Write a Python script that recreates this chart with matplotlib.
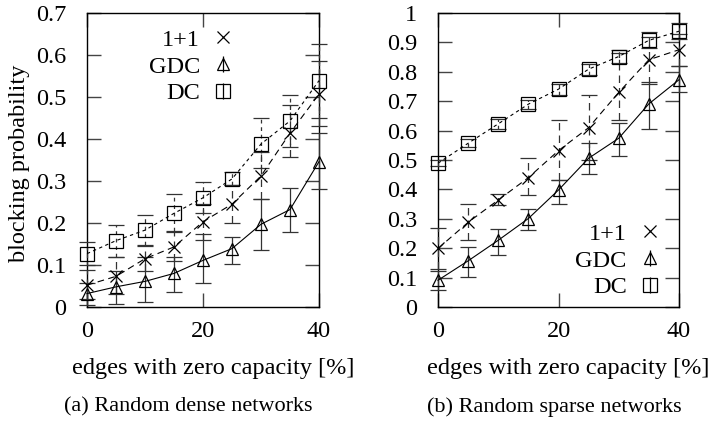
import matplotlib
matplotlib.use("Agg")
import matplotlib.pyplot as plt
from matplotlib.lines import Line2D
from matplotlib.legend_handler import HandlerTuple
from matplotlib.ticker import FormatStrFormatter

plt.rcParams["font.family"] = "serif"
plt.rcParams["font.serif"] = ["Liberation Serif", "DejaVu Serif"]
plt.rcParams["font.size"] = 17.5

# x positions (edges with zero capacity, %)
x = [0, 5, 10, 15, 20, 25, 30, 35, 40]

# (a) Random dense networks
dense_11 = [0.052, 0.073, 0.115, 0.143, 0.203, 0.245, 0.312, 0.414, 0.507]
dense_11_lo = [0.020, 0.030, 0.085, 0.110, 0.160, 0.200, 0.256, 0.358, 0.430]
dense_11_hi = [0.089, 0.120, 0.145, 0.178, 0.245, 0.290, 0.370, 0.480, 0.585]
dense_gdc = [0.032, 0.048, 0.061, 0.080, 0.111, 0.139, 0.197, 0.232, 0.346]
dense_gdc_lo = [0.005, 0.008, 0.012, 0.036, 0.057, 0.103, 0.135, 0.179, 0.280]
dense_gdc_hi = [0.058, 0.086, 0.119, 0.119, 0.175, 0.167, 0.256, 0.284, 0.415]
dense_dc = [0.127, 0.158, 0.183, 0.223, 0.260, 0.305, 0.388, 0.443, 0.539]
dense_dc_lo = [0.100, 0.120, 0.147, 0.180, 0.225, 0.290, 0.330, 0.380, 0.450]
dense_dc_hi = [0.155, 0.195, 0.220, 0.270, 0.298, 0.322, 0.449, 0.505, 0.627]

# (b) Random sparse networks
sparse_11 = [0.199, 0.288, 0.364, 0.440, 0.532, 0.610, 0.730, 0.841, 0.875]
sparse_11_lo = [0.130, 0.227, 0.347, 0.381, 0.432, 0.500, 0.636, 0.760, 0.820]
sparse_11_hi = [0.270, 0.352, 0.384, 0.506, 0.636, 0.720, 0.864, 0.920, 0.930]
sparse_gdc = [0.091, 0.157, 0.227, 0.301, 0.398, 0.506, 0.574, 0.691, 0.773]
sparse_gdc_lo = [0.057, 0.102, 0.176, 0.261, 0.350, 0.452, 0.514, 0.605, 0.730]
sparse_gdc_hi = [0.123, 0.205, 0.267, 0.332, 0.432, 0.557, 0.627, 0.767, 0.820]
sparse_dc = [0.489, 0.557, 0.623, 0.690, 0.741, 0.809, 0.852, 0.907, 0.938]
sparse_dc_lo = [0.480, 0.545, 0.605, 0.675, 0.720, 0.790, 0.830, 0.880, 0.910]
sparse_dc_hi = [0.500, 0.570, 0.640, 0.705, 0.760, 0.825, 0.875, 0.935, 0.965]

labels = ["1+1", "GDC", "DC"]
captions = ["(a) Random dense networks", "(b) Random sparse networks"]

fig = plt.figure(figsize=(7.15, 4.22), dpi=100)
ax1 = fig.add_axes([87 / 715, 115 / 422, 232 / 715, 294 / 422])
ax2 = fig.add_axes([438 / 715, 115 / 422, 241 / 715, 294 / 422])

styles = [
    dict(marker="x", ls=(0, (6, 4)), ms=8.5),
    dict(marker="^", ls="-", ms=9),
    dict(marker="s", ls=(0, (3, 3)), ms=10),
]


def draw(ax, series, ymax, yticks):
    for (y, lo, hi), st in zip(series, styles):
        err = [[a - b for a, b in zip(y, lo)], [b - a for a, b in zip(y, hi)]]
        cont = ax.errorbar(x, y, yerr=err, color="black", lw=0.8,
                           marker=st["marker"], ms=st["ms"], mfc="none",
                           mec="black", mew=0.9, ls=st["ls"],
                           capsize=6, capthick=0.9, elinewidth=0.9,
                           ecolor="#333333", clip_on=False, zorder=3)
        for bl in cont[2]:
            bl.set_linestyle(st["ls"])
            bl.set_clip_on(False)
        for cl in cont[1]:
            cl.set_clip_on(False)
    ax.set_xlim(0, 40)
    ax.set_ylim(0, ymax)
    ax.set_xticks([0, 20, 40])
    ax.set_yticks(yticks)
    ax.yaxis.set_major_formatter(FormatStrFormatter("%g"))
    ax.tick_params(direction="in", length=10, width=1, color="#444444",
                   top=True, right=True, labelsize=17.5)
    ax.tick_params(axis="y", pad=15)
    ax.tick_params(axis="x", pad=10)
    for s in ax.spines.values():
        s.set_linewidth(1.0)
    ax.set_xlabel("edges with zero capacity [%]", fontsize=17.5)


draw(ax1, [(dense_11, dense_11_lo, dense_11_hi),
           (dense_gdc, dense_gdc_lo, dense_gdc_hi),
           (dense_dc, dense_dc_lo, dense_dc_hi)],
     0.7, [0, 0.1, 0.2, 0.3, 0.4, 0.5, 0.6, 0.7])
draw(ax2, [(sparse_11, sparse_11_lo, sparse_11_hi),
           (sparse_gdc, sparse_gdc_lo, sparse_gdc_hi),
           (sparse_dc, sparse_dc_lo, sparse_dc_hi)],
     1.0, [0, 0.1, 0.2, 0.3, 0.4, 0.5, 0.6, 0.7, 0.8, 0.9, 1])
ax1.set_ylabel("blocking probability", fontsize=17.5)
ax1.yaxis.set_label_coords(-0.245, 0.49)
ax1.xaxis.set_label_coords(0.543, -0.175)
ax2.xaxis.set_label_coords(0.539, -0.175)


def legend_handles():
    hs = []
    for i, st in enumerate(styles):
        m = Line2D([], [], color="black", marker=st["marker"], ms=st["ms"],
                   mfc="none", mew=0.9, ls="none")
        if i == 0:
            hs.append(m)
        else:
            v = Line2D([], [], color="black", marker="|", ms=st["ms"] + 2,
                       mew=0.9, ls="none")
            hs.append((m, v))
    return hs


for ax, loc, anchor in [(ax1, "upper right", (0.638, 0.946)),
                        (ax2, "lower right", (0.929, 0.03))]:
    ax.legend(legend_handles(), labels, loc=loc, bbox_to_anchor=anchor,
              frameon=False, markerfirst=False, handlelength=1.0,
              handletextpad=0.45, labelspacing=0.19, borderpad=0,
              borderaxespad=0, fontsize=17.5,
              handler_map={tuple: HandlerTuple(ndivide=1)})

for xc, cap in zip([188 / 715, 554 / 715], captions):
    fig.text(xc, 1 - 407 / 422, cap, ha="center", va="center", fontsize=16)

fig.savefig("out.png", dpi=100)
